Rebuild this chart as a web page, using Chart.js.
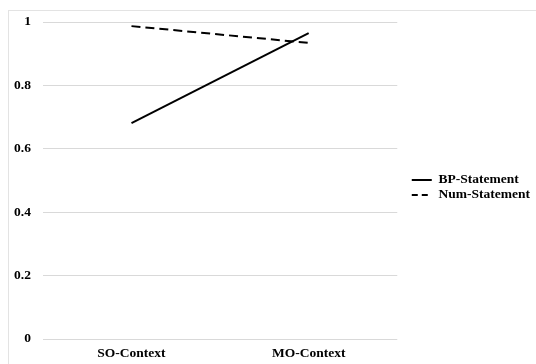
<!DOCTYPE html>
<html>
<head>
<meta charset="utf-8">
<script src="https://cdn.jsdelivr.net/npm/chart.js@4.4.0/dist/chart.umd.min.js"></script>
<style>
  html, body { margin: 0; padding: 0; background: #fff; }
  #wrap { position: relative; width: 536px; height: 364px; }
  #frame { position: absolute; left: 8px; top: 10px; right: 0; bottom: 0;
           border-top: 1px solid #e3e3e3; border-left: 1px solid #e3e3e3; }
  canvas { position: absolute; left: 0; top: 0; }
</style>
</head>
<body>
<div id="wrap">
  <div id="frame"></div>
  <canvas id="lineChart" width="536" height="364"></canvas>
</div>
<script>
  // data
  const categories = ['SO-Context', 'MO-Context'];
  const bpStatement = [0.681, 0.965];
  const numStatement = [0.987, 0.934];
  const yTicks = [0, 0.2, 0.4, 0.6, 0.8, 1];

  const font = { family: "'Liberation Serif', 'Times New Roman', serif", size: 13.5, weight: 'bold' };

  // nudge the legend: a bit right of the plot and slightly up
  const legendShift = {
      id: 'legendShift',
      afterLayout(chart) {
          const lg = chart.legend;
          lg.left += 13; lg.right += 13;
          lg.top -= 5.5; lg.bottom -= 5.5;
      }
  };

  const ctx = document.getElementById('lineChart').getContext('2d');

  new Chart(ctx, {
      type: 'line',
      data: {
          labels: categories,
          datasets: [{
              label: 'BP-Statement',
              data: bpStatement,
              borderColor: '#000',
              backgroundColor: '#000',
              borderWidth: 2,
              pointRadius: 0,
              pointStyle: 'line',
              tension: 0
          }, {
              label: 'Num-Statement',
              data: numStatement,
              borderColor: '#000',
              backgroundColor: '#000',
              borderWidth: 2,
              borderDash: [9, 5],
              pointRadius: 0,
              pointStyle: 'line',
              tension: 0
          }]
      },
      plugins: [legendShift],
      options: {
          responsive: false,
          animation: false,
          layout: { padding: { left: 2, top: 22, right: 9, bottom: 0 } },
          plugins: {
              tooltip: { enabled: false },
              legend: {
                  position: 'right',
                  labels: {
                      usePointStyle: true,
                      pointStyleWidth: 20,
                      padding: 1.5,
                      color: '#000',
                      font: font,
                      // point style items carry no dash, so copy it from the dataset
                      generateLabels: chart => {
                          const items = Chart.defaults.plugins.legend.labels.generateLabels(chart);
                          items.forEach(item => {
                              const ds = chart.data.datasets[item.datasetIndex];
                              item.lineDash = ds.borderDash ? [6, 4] : [];
                              item.lineWidth = 2;
                              item.strokeStyle = '#000';
                          });
                          return items;
                      }
                  }
              }
          },
          scales: {
              x: {
                  offset: true,
                  grid: { display: false, drawTicks: false },
                  border: { display: false },
                  ticks: { color: '#000', font: font, padding: 6 },
                  afterFit: scale => { scale.height = 25; }
              },
              y: {
                  min: 0,
                  max: 1,
                  afterBuildTicks: axis => { axis.ticks = yTicks.map(v => ({ value: v })); },
                  grid: { color: '#d9d9d9', drawTicks: false, lineWidth: 1 },
                  border: { display: false },
                  ticks: { color: '#000', font: font, padding: 12, callback: v => String(v) }
              }
          }
      }
  });
</script>
</body>
</html>
